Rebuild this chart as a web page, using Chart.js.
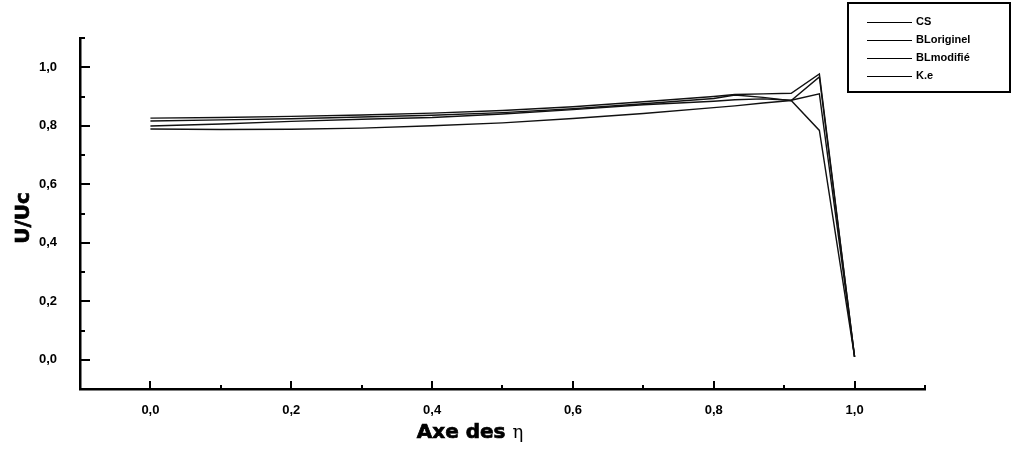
<!DOCTYPE html>
<html>
<head>
<meta charset="utf-8">
<script src="https://cdn.jsdelivr.net/npm/chart.js@4.4.1/dist/chart.umd.min.js"></script>
<style>
  body { margin: 0; background: #fff; }
</style>
</head>
<body>
<canvas id="myChart" width="1013" height="450"></canvas>
<script>
// abscisse eta et profils U/Uc
const eta = [0, 0.1, 0.2, 0.3, 0.4, 0.5, 0.6, 0.7, 0.8, 0.83, 0.87, 0.91, 0.95, 1.0];
const cs        = [0.826, 0.828, 0.832, 0.837, 0.843, 0.852, 0.865, 0.882, 0.900, 0.907, 0.909, 0.911, 0.977, 0.01];
const blOrig    = [0.816, 0.820, 0.824, 0.830, 0.836, 0.845, 0.858, 0.875, 0.893, 0.905, 0.897, 0.886, 0.967, 0.01];
const blModif   = [0.799, 0.806, 0.815, 0.822, 0.828, 0.840, 0.855, 0.872, 0.884, 0.889, 0.892, 0.887, 0.909, 0.01];
const ke        = [0.789, 0.787, 0.788, 0.792, 0.800, 0.810, 0.825, 0.842, 0.862, 0.868, 0.878, 0.886, 0.784, 0.01];
const labels    = ['CS', 'BLoriginel', 'BLmodifié', 'K.e'];
const series    = [cs, blOrig, blModif, ke];

const toPts = arr => arr.map((v, i) => ({ x: eta[i], y: v }));
const virgule = v => v.toFixed(1).replace('.', ',');

// texte gras un peu epaissi (trait + remplissage)
function texteGras(ctx, txt, x, y) {
  ctx.lineWidth = 0.7;
  ctx.strokeText(txt, x, y);
  ctx.fillText(txt, x, y);
}

// ticks vers l'interieur + titres + legende
const cadre = {
  id: 'cadre',
  afterDraw(chart) {
    const ctx = chart.ctx;
    const xs = chart.scales.x, ys = chart.scales.y;
    const a = chart.chartArea;
    ctx.save();
    ctx.strokeStyle = '#000';
    ctx.lineWidth = 2;
    for (let k = -1; k <= 11; k++) {
      const major = k % 2 === 0;
      const px = Math.round(xs.getPixelForValue(k / 10));
      ctx.beginPath();
      ctx.moveTo(px, a.bottom);
      ctx.lineTo(px, a.bottom - (major ? 8 : 4));
      ctx.stroke();
      const py = Math.round(ys.getPixelForValue(k / 10));
      ctx.beginPath();
      ctx.moveTo(a.left, py);
      ctx.lineTo(a.left + (major ? 10 : 5), py);
      ctx.stroke();
    }

    // titre axe x
    ctx.fillStyle = '#000';
    ctx.textBaseline = 'alphabetic';
    const t1 = 'Axe des ';
    ctx.font = '18px "DejaVu Serif"';
    const w2 = ctx.measureText('η').width;
    ctx.font = 'bold 20px "DejaVu Sans"';
    const w1 = ctx.measureText(t1).width;
    const x0 = 470 - (w1 + w2) / 2;
    texteGras(ctx, t1, x0, 438);
    ctx.font = '18px "DejaVu Serif"';
    ctx.fillText('η', x0 + w1, 438);

    // titre axe y
    ctx.save();
    ctx.translate(29, 218);
    ctx.rotate(-Math.PI / 2);
    ctx.font = 'bold 20px "DejaVu Sans"';
    ctx.textAlign = 'center';
    texteGras(ctx, 'U/Uc', 0, 0);
    ctx.restore();

    // legende
    ctx.lineWidth = 2;
    ctx.strokeRect(848, 3, 162, 89);
    ctx.font = 'bold 11px "Liberation Sans"';
    ctx.textBaseline = 'middle';
    ctx.lineWidth = 1;
    chart.data.datasets.forEach((ds, i) => {
      const y = 22 + i * 18;
      ctx.beginPath();
      ctx.moveTo(867, y + 0.5);
      ctx.lineTo(912, y + 0.5);
      ctx.stroke();
      ctx.fillText(ds.label, 916, y);
    });
    ctx.restore();
  }
};

const tickFmt = v => {
  const k = Math.round(v * 10);
  return (k % 2 === 0 && k >= 0 && k <= 10) ? virgule(k / 10) : '';
};

const ctx = document.getElementById('myChart').getContext('2d');
const myChart = new Chart(ctx, {
  type: 'line',
  data: {
    datasets: series.map((s, i) => ({
      label: labels[i],
      data: toPts(s),
      borderColor: '#111',
      borderWidth: 1.4,
      pointRadius: 0,
      tension: 0,
      fill: false
    }))
  },
  options: {
    responsive: false,
    animation: false,
    devicePixelRatio: 1,
    layout: { padding: { top: 38, right: 88, left: 0, bottom: 0 } },
    plugins: { legend: { display: false }, tooltip: { enabled: false } },
    scales: {
      x: {
        type: 'linear',
        min: -0.1, max: 1.1,
        grid: { display: false, drawTicks: false },
        border: { display: true, color: '#000', width: 2.5 },
        afterFit: s => { s.height = 61; },
        ticks: {
          stepSize: 0.1,
          padding: 14,
          autoSkip: false,
          maxRotation: 0,
          minRotation: 0,
          color: '#000',
          font: { family: 'Liberation Sans', size: 13, weight: 'bold' },
          callback: tickFmt
        }
      },
      y: {
        min: -0.1, max: 1.1,
        grid: { display: false, drawTicks: false },
        border: { display: true, color: '#000', width: 2.5 },
        afterFit: s => { s.width = 80; },
        ticks: {
          stepSize: 0.1,
          padding: 23,
          autoSkip: false,
          color: '#000',
          font: { family: 'Liberation Sans', size: 13, weight: 'bold' },
          callback: tickFmt
        }
      }
    }
  },
  plugins: [cadre]
});
</script>
</body>
</html>
